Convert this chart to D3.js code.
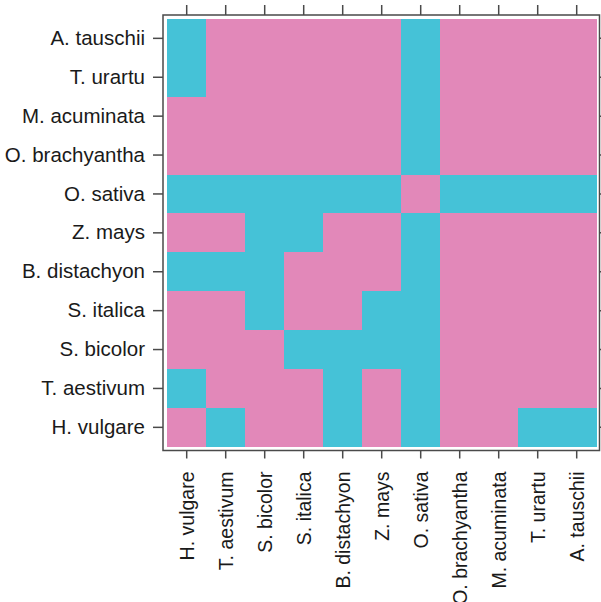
<!DOCTYPE html>
<html>
<head>
<meta charset="utf-8">
<script src="https://cdn.jsdelivr.net/npm/d3@7"></script>
<style>
  html, body { margin: 0; padding: 0; background: #fff; }
  svg text { font-family: "Liberation Sans", Arial, Helvetica, sans-serif; fill: #1a1a1a; }
</style>
</head>
<body>
<svg id="chart" width="601" height="602"></svg>
<script>
// Rows (top to bottom) and columns (left to right)
const rowLabels = ["A. tauschii", "T. urartu", "M. acuminata", "O. brachyantha", "O. sativa",
  "Z. mays", "B. distachyon", "S. italica", "S. bicolor", "T. aestivum", "H. vulgare"];
const colLabels = ["H. vulgare", "T. aestivum", "S. bicolor", "S. italica", "B. distachyon",
  "Z. mays", "O. sativa", "O. brachyantha", "M. acuminata", "T. urartu", "A. tauschii"];

// 1 = cyan, 0 = pink ; one array per row, in column order
const rowATauschii    = [1,0,0,0,0,0,1,0,0,0,0];
const rowTUrartu      = [1,0,0,0,0,0,1,0,0,0,0];
const rowMAcuminata   = [0,0,0,0,0,0,1,0,0,0,0];
const rowOBrachyantha = [0,0,0,0,0,0,1,0,0,0,0];
const rowOSativa      = [1,1,1,1,1,1,0,1,1,1,1];
const rowZMays        = [0,0,1,1,0,0,1,0,0,0,0];
const rowBDistachyon  = [1,1,1,0,0,0,1,0,0,0,0];
const rowSItalica     = [0,0,1,0,0,1,1,0,0,0,0];
const rowSBicolor     = [0,0,0,1,1,1,1,0,0,0,0];
const rowTAestivum    = [1,0,0,0,1,0,1,0,0,0,0];
const rowHVulgare     = [0,1,0,0,1,0,1,0,0,1,1];
const matrix = [rowATauschii, rowTUrartu, rowMAcuminata, rowOBrachyantha, rowOSativa,
  rowZMays, rowBDistachyon, rowSItalica, rowSBicolor, rowTAestivum, rowHVulgare];

const colorValues = [0, 1];
const colorRange = ["#E288B9", "#45C2D7"];

const svg = d3.select("#chart");
const x = d3.scaleBand().domain(colLabels).range([167.2, 596.2]).padding(0);
const y = d3.scaleBand().domain(rowLabels).range([18.9, 446.8]).padding(0);
const color = d3.scaleOrdinal().domain(colorValues).range(colorRange);

const cells = [];
matrix.forEach((row, i) => row.forEach((v, j) => cells.push({r: rowLabels[i], c: colLabels[j], v})));

svg.append("g").selectAll("rect").data(cells).join("rect")
  .attr("x", d => x(d.c))
  .attr("y", d => y(d.r))
  .attr("width", x.bandwidth() + 0.5)
  .attr("height", y.bandwidth() + 0.5)
  .attr("fill", d => color(d.v))
  .attr("shape-rendering", "crispEdges");

// frame
const fx0 = 163, fx1 = 599.5, fy0 = 15, fy1 = 450.5;
const frameColor = "#4a4a4a";
svg.append("rect")
  .attr("x", fx0).attr("y", fy0)
  .attr("width", fx1 - fx0).attr("height", fy1 - fy0)
  .attr("fill", "none").attr("stroke", frameColor).attr("stroke-width", 1.5);

// axes
const styleAxis = size => g => {
  g.select(".domain").remove();
  g.selectAll(".tick line").attr("stroke", frameColor).attr("stroke-width", 1.5);
  g.selectAll(".tick text").style("font-size", size);
};

svg.append("g").attr("transform", `translate(${fx0},0)`)
  .call(d3.axisLeft(y).tickSize(10).tickPadding(8))
  .call(styleAxis("20.5px"));

svg.append("g").attr("transform", `translate(0,${fy0})`)
  .call(d3.axisTop(x).tickSize(10).tickFormat(""))
  .call(styleAxis("20px"));

svg.append("g").attr("transform", `translate(${fx1},0)`)
  .call(d3.axisRight(y).tickSize(8).tickFormat(""))
  .call(styleAxis("20px"));

const bottom = svg.append("g").attr("transform", `translate(0,${fy1})`)
  .call(d3.axisBottom(x).tickSize(8).tickPadding(0))
  .call(styleAxis("19.5px"));
bottom.selectAll(".tick text")
  .attr("transform", "rotate(-90)")
  .attr("text-anchor", "end")
  .attr("x", -21)
  .attr("y", 0)
  .attr("dy", "0.36em");
</script>
</body>
</html>
